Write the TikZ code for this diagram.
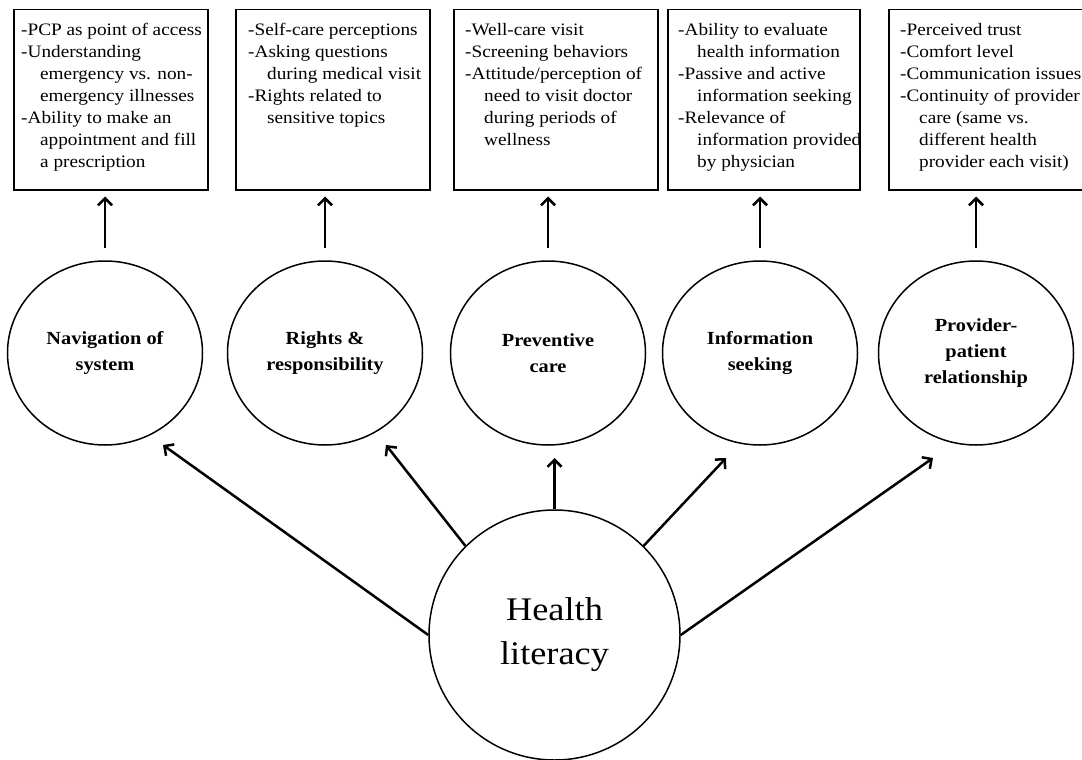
\documentclass[tikz,border=0pt]{standalone}
\usepackage{fontspec}
\setmainfont{Liberation Serif}[FakeStretch=1.1]
\usetikzlibrary{arrows.meta,shapes.geometric}
\def\cont{\hspace*{19pt}}

\begin{document}
\begin{tikzpicture}[x=1pt, y=-1pt,
		listbox/.style={draw, line width=1.5pt, anchor=north west, minimum height=180pt, inner sep=0pt},
		listtext/.style={anchor=north west, align=left, inner sep=0pt, font=\fontsize{17.5}{22}\selectfont},
		topic/.style={draw, ellipse, line width=1.5pt, minimum width=195pt, minimum height=184pt, align=center, inner sep=0pt, font=\fontsize{18.5}{26}\selectfont\bfseries},
		core/.style={draw, ellipse, line width=1.5pt, minimum width=251pt, minimum height=250pt, align=center, inner sep=0pt, font=\fontsize{33}{44}\selectfont},
		link/.style={line width=2.5pt, -{Straight Barb[length=7pt,width=14pt]}}]
	\useasboundingbox (0,0) rectangle (1082,760);

	% boxes of items along the top
	\node[listbox, minimum width=194pt] (b1) at (13,9) {};
	\node[listbox, minimum width=194pt] (b2) at (235,9) {};
	\node[listbox, minimum width=204pt] (b3) at (453,9) {};
	\node[listbox, minimum width=192pt] (b4) at (667,9) {};
	\node[listbox, minimum width=210pt] (b5) at (888,9) {};

	\node[listtext] (l1) at ([shift={(8,14)}]b1.north west) {-PCP as point of access\\-Understanding\\\cont emergency vs. non-\\\cont emergency illnesses\\-Ability to make an\\\cont appointment and fill\\\cont a prescription};
	\node[listtext] (l2) at ([shift={(13,14)}]b2.north west) {-Self-care perceptions\\-Asking questions\\\cont during medical visit\\-Rights related to\\\cont sensitive topics};
	\node[listtext] (l3) at ([shift={(12,14)}]b3.north west) {-Well-care visit\\-Screening behaviors\\-Attitude/perception of\\\cont need to visit doctor\\\cont during periods of\\\cont wellness};
	\node[listtext] (l4) at ([shift={(11,14)}]b4.north west) {-Ability to evaluate\\\cont health information\\-Passive and active\\\cont information seeking\\-Relevance of\\\cont information provided\\\cont by physician};
	\node[listtext] (l5) at ([shift={(12,14)}]b5.north west) {-Perceived trust\\-Comfort level\\-Communication issues\\-Continuity of provider\\\cont care (same vs.\\\cont different health\\\cont provider each visit)};

	% the five topics
	\node[topic] (c1) at (105,353) {Navigation of\\system};
	\node[topic] (c2) at (325,353) {Rights \&\\responsibility};
	\node[topic] (c3) at (548,353) {Preventive\\care};
	\node[topic] (c4) at (760,353) {Information\\seeking};
	\node[topic] (c5) at (976,353) {Provider-\\patient\\relationship};

	\node[core] (h) at (554.5,635) {Health\\literacy};

	% arrow ends below the topics
	\coordinate (t1) at (163,445);
	\coordinate (t2) at (386,445);
	\coordinate (t3) at (554.5,458);
	\coordinate (t4) at (726,458);
	\coordinate (t5) at (933,458);

	\draw[link] (h.180) -- (t1);
	\draw[link] (h.135) -- (t2);
	\draw[link] (h.90) -- (t3);
	\draw[link] (h.45) -- (t4);
	\draw[link] (h.0) -- (t5);

	\foreach \i in {1,...,5}
		\draw[link, shorten <=12pt, shorten >=6pt] (c\i.north) -- (c\i.north |- b\i.south);
\end{tikzpicture}
\end{document}
